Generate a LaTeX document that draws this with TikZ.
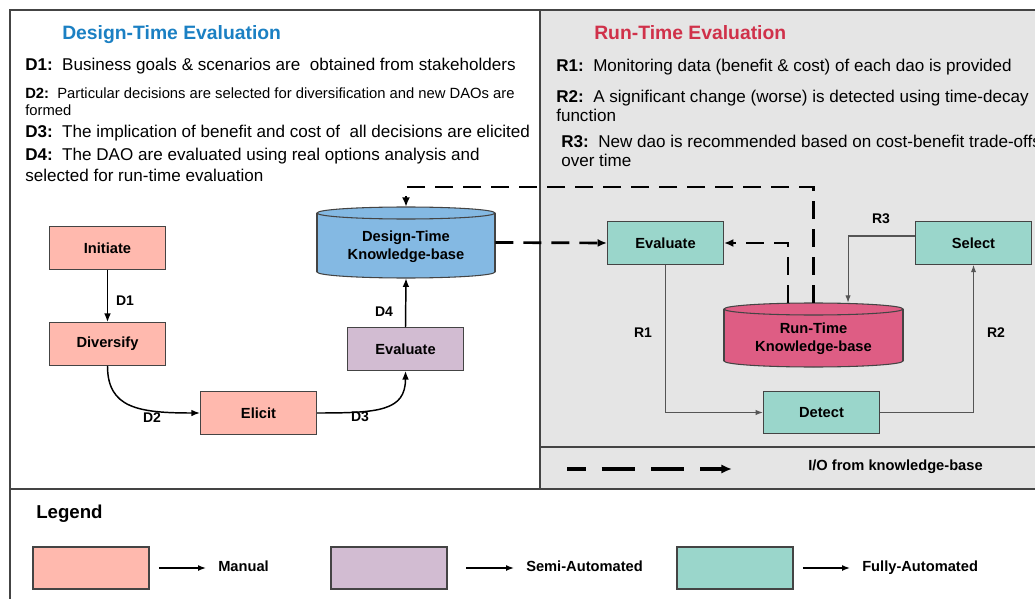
\documentclass[tikz,border=0pt]{standalone}
\usepackage{fontspec}
\setmainfont{Liberation Sans}
\usetikzlibrary{arrows.meta}
\definecolor{manual}{HTML}{FFB9AE}
\definecolor{semi}{HTML}{D2BCD2}
\definecolor{fully}{HTML}{9AD6CB}
\definecolor{dkbfill}{HTML}{84B9E3}
\definecolor{rkbfill}{HTML}{DE5D84}
\definecolor{panel}{HTML}{E5E5E5}
\definecolor{titleblue}{HTML}{1B80C3}
\definecolor{titlered}{HTML}{D0314A}
\definecolor{edge}{HTML}{444444}
\definecolor{thinline}{HTML}{555555}
\begin{document}
\begin{tikzpicture}[x=0.75pt,y=-0.75pt,
  box/.style={draw=edge, line width=0.8pt, minimum width=87pt, minimum height=32pt, inner sep=0pt, font=\bfseries\fontsize{11}{13}\selectfont},
  kbtext/.style={inner sep=0pt, align=center, font=\bfseries\fontsize{11}{13.5}\selectfont},
  lbl/.style={font=\bfseries\fontsize{10.5}{12}\selectfont, inner sep=0pt},
  txt/.style={anchor=base west, inner sep=0pt, font=\fontsize{12.8}{15}\selectfont},
  smalltxt/.style={anchor=base west, inner sep=0pt, font=\fontsize{11.1}{13}\selectfont},
  ttl/.style={anchor=base west, inner sep=0pt, font=\bfseries\fontsize{14.5}{17}\selectfont},
  arr/.style={line width=1.1pt, -{Latex[length=6.5pt,width=5pt]}},
  thinarr/.style={draw=thinline, line width=0.8pt, -{Latex[length=5.5pt,width=4pt]}},
  io/.style={line width=2pt, dash pattern=on 13.5pt off 7.5pt, -{Latex[length=7pt,width=6pt]}},
  frame/.style={draw=edge, line width=0.9pt},
  legbox/.style={draw=edge, line width=0.8pt, minimum width=87pt, minimum height=31.5pt, inner sep=0pt},
  legtxt/.style={anchor=west, inner sep=0pt, text height=8pt, text depth=2.4pt, font=\bfseries\fontsize{11}{13}\selectfont},
  legarr/.style={line width=1.1pt, -{Latex[length=6pt,width=4.5pt]}}
]
\useasboundingbox (0,0) rectangle (1035,599);
\clip (0,0) rectangle (1035,599);

% panels
\fill[panel] (540,10) rectangle (1040,489);
\draw[frame] (10,605) -- (10,10) -- (1040,10);
\draw[frame] (540,10) -- (540,489);
\draw[frame] (10,489) -- (1040,489);
\draw[frame] (540,447) -- (1040,447);

% titles and descriptions
\node[ttl, text=titleblue] (ttlD) at (62,40) {Design-Time Evaluation};
\node[ttl, text=titlered] (ttlR) at (594,40) {Run-Time Evaluation};

\node[txt] (d1) at (25,71) {\textbf{D1:}\ \ Business goals \& scenarios are\ \ obtained from stakeholders};
\node[smalltxt] (d2a) at (25,99) {\textbf{D2:}\ \ Particular decisions are selected for diversification and new DAOs are};
\node[smalltxt] (d2b) at (25,116) {formed};
\node[txt] (d3) at (25,138) {\textbf{D3:}\ \ The implication of benefit and cost of\ \ all decisions are elicited};
\node[txt] (d4a) at (25,161) {\textbf{D4:}\ \ The DAO are evaluated using real options analysis and};
\node[txt] (d4b) at (25,182) {selected for run-time evaluation};

\node[txt] (r1) at (556,72) {\textbf{R1:}\ \ Monitoring data (benefit \& cost) of each dao is provided};
\node[txt] (r2a) at (556,103) {\textbf{R2:}\ \ A significant change (worse) is detected using time-decay};
\node[txt] (r2b) at (556,122) {function};
\node[txt] (r3a) at (561,148) {\textbf{R3:}\ \ New dao is recommended based on cost-benefit trade-offs};
\node[txt] (r3b) at (561,167) {over time};

% design-time nodes
\node[box, fill=manual] (ini) at (107.5,248) {Initiate};
\node[box, fill=manual] (div) at (107.5,344) {Diversify};
\node[box, fill=manual] (eli) at (258.5,413) {Elicit};
\node[box, fill=semi] (evd) at (405.5,349) {Evaluate};

% design-time knowledge base cylinder
\fill[dkbfill] (317,213) rectangle (495,272);
\fill[dkbfill] (406,272) ellipse (89 and 6);
\begin{scope}
  \clip (300,272) rectangle (510,290);
  \draw[edge, line width=0.8pt] (406,272) ellipse (89 and 6);
\end{scope}
\draw[edge, line width=0.8pt] (317,213) -- (317,272) (495,213) -- (495,272);
\draw[edge, line width=0.8pt, fill=dkbfill] (406,213) ellipse (89 and 6);
\node[inner sep=0pt, minimum width=133.5pt, minimum height=53.25pt] (dkb) at (406,242.5) {};
\node[kbtext] (dkbt) at (406,246.5) {Design-Time\\Knowledge-base};

% run-time nodes
\node[box, fill=fully] (evr) at (665.5,243) {Evaluate};
\node[box, fill=fully] (sel) at (973.5,243) {Select};
\node[box, fill=fully] (det) at (821.5,412.5) {Detect};

% run-time knowledge base cylinder
\fill[rkbfill] (724,309) rectangle (903,361);
\fill[rkbfill] (813.5,361) ellipse (89.5 and 6);
\begin{scope}
  \clip (710,361) rectangle (920,380);
  \draw[edge, line width=0.8pt] (813.5,361) ellipse (89.5 and 6);
\end{scope}
\draw[edge, line width=0.8pt] (724,309) -- (724,361) (903,309) -- (903,361);
\draw[edge, line width=0.8pt, fill=rkbfill] (813.5,309) ellipse (89.5 and 6);
\node[inner sep=0pt, minimum width=134.25pt, minimum height=48pt] (rkb) at (813.5,335) {};
\node[kbtext] (rkbt) at (813.5,339) {Run-Time\\Knowledge-base};

% design-time connectors
\draw[arr] (ini.south) -- (div.north);
\draw[arr] (div.south) .. controls +(0,42) and +(-62,0) .. (eli.west);
\draw[arr] (eli.east) .. controls +(62,0) and +(0,40) .. (evd.south);
\draw[arr] (evd.north) -- (dkb.south);
\node[lbl] (lD1) at (125,301) {D1};
\node[lbl] (lD2) at (152,418) {D2};
\node[lbl] (lD3) at (360,417) {D3};
\node[lbl] (lD4) at (384,312) {D4};

% run-time connectors
\draw[thinarr] (evr.south) |- (det.west);
\draw[thinarr] (det.east) -| (sel.south);
\draw[thinarr] ([yshift=5.25pt]sel.west) -| ([xshift=25.9pt]rkb.north);
\node[lbl] (lR1) at (643,333) {R1};
\node[lbl] (lR2) at (996,333) {R2};
\node[lbl] (lR3) at (881,219) {R3};

% I/O dashed connectors
\coordinate (ioturn) at (813.5,187);
\draw[io] (rkb.north) -- (ioturn) -| (dkb.north);
\draw[io] ([xshift=-19.1pt]rkb.north) |- (evr.east);
\draw[io] (dkb.east) -- (evr.west);

% I/O legend
\coordinate (ioA) at (567,469);
\coordinate (ioB) at (732,469);
\draw[line width=2.6pt, dash pattern=on 25pt off 12pt, dash phase=11pt, -{Latex[length=8pt,width=7pt]}] (ioA) -- (ioB);
\node[legtxt] (iolbl) at (808,467) {I/O from knowledge-base};

% legend
\node[anchor=base west, inner sep=0pt, font=\bfseries\fontsize{14}{16}\selectfont] (leg) at (36,518) {Legend};
\node[legbox, fill=manual] (lgm) at (91,568) {};
\node[legbox, fill=semi] (lgs) at (389,568) {};
\node[legbox, fill=fully] (lgf) at (735,568) {};
\node[legtxt] (lgmt) at (218,567.5) {Manual};
\node[legtxt] (lgst) at (526,567.5) {Semi-Automated};
\node[legtxt] (lgft) at (862,567.5) {Fully-Automated};
\draw[legarr] ([xshift=7pt]lgm.east) -- ([xshift=-9pt]lgm.east -| lgmt.west);
\draw[legarr] ([xshift=14pt]lgs.east) -- ([xshift=-9pt]lgs.east -| lgst.west);
\draw[legarr] ([xshift=7pt]lgf.east) -- ([xshift=-9pt]lgf.east -| lgft.west);
\end{tikzpicture}
\end{document}
